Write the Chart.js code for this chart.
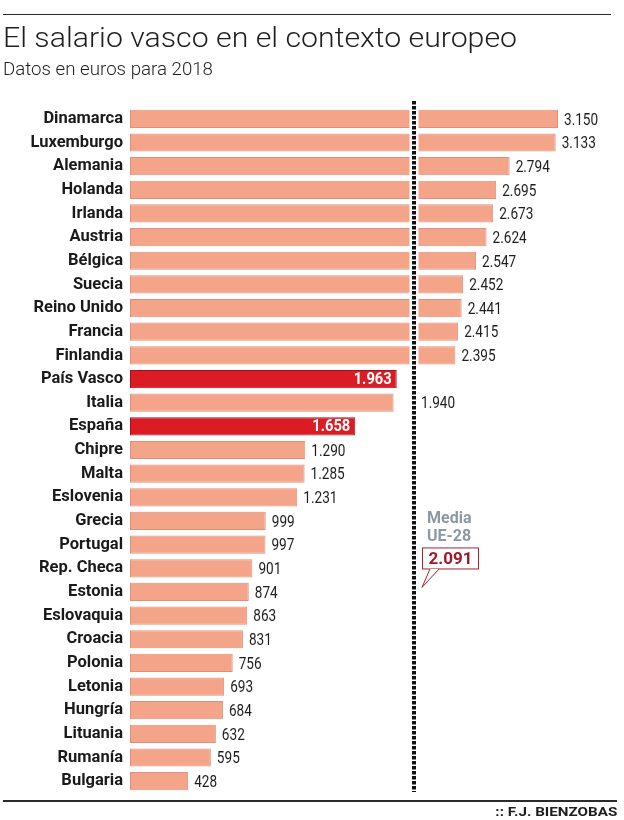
<!DOCTYPE html>
<html>
<head>
<meta charset="utf-8">
<script src="https://cdn.jsdelivr.net/npm/chart.js@4.4.1/dist/chart.umd.min.js"></script>
<style>
  html, body { margin: 0; padding: 0; background: #fff; }
  body { width: 624px; height: 820px; position: relative; overflow: hidden; font-family: Roboto, "Noto Sans", sans-serif; }
  #chart { position: absolute; left: 0; top: 0; }
  .rule { position: absolute; height: 1.5px; background: #2a2a2a; }
  .txt { position: absolute; white-space: nowrap; transform-origin: left top; }
  #title { left: 3px; top: 25px; font-size: 27px; line-height: 27px; font-weight: 300; color: #1e1e1e; }
  #subtitle { left: 3px; top: 59px; font-size: 19px; line-height: 19px; font-weight: 300; color: #1e1e1e; }
  #credit { top: 806px; font-size: 12px; line-height: 12px; font-weight: 700; color: #1e1e1e; transform-origin: right top; }
</style>
</head>
<body>
<canvas id="chart" width="624" height="820"></canvas>
<div class="rule" style="left:3px; top:13.5px; width:608px;"></div>
<div class="rule" style="left:3px; top:800px; width:614px;"></div>
<div id="title" class="txt">El salario vasco en el contexto europeo</div>
<div id="subtitle" class="txt">Datos en euros para 2018</div>
<div id="credit" class="txt">:: F.J. BIENZOBAS</div>
<script>
// ---- data ----
const countries = [
  'Dinamarca', 'Luxemburgo', 'Alemania', 'Holanda', 'Irlanda', 'Austria', 'Bélgica',
  'Suecia', 'Reino Unido', 'Francia', 'Finlandia', 'País Vasco', 'Italia', 'España',
  'Chipre', 'Malta', 'Eslovenia', 'Grecia', 'Portugal', 'Rep. Checa', 'Estonia',
  'Eslovaquia', 'Croacia', 'Polonia', 'Letonia', 'Hungría', 'Lituania', 'Rumanía', 'Bulgaria'
];
const salaries = [
  3150, 3133, 2794, 2695, 2673, 2624, 2547,
  2452, 2441, 2415, 2395, 1963, 1940, 1658,
  1290, 1285, 1231, 999, 997, 901, 874,
  863, 831, 756, 693, 684, 632, 595, 428
];
const highlighted = ['País Vasco', 'España'];
const euAverage = 2091;
const averageLabel = ['Media', 'UE-28'];

// ---- text fitting for HTML headings ----
function fitWidth(id, target, alignRight, rightEdge) {
  const el = document.getElementById(id);
  const w = el.getBoundingClientRect().width;
  const s = target / w;
  el.style.transform = 'scaleX(' + s + ')';
  if (alignRight) {
    el.style.left = (rightEdge - w) + 'px';
  }
}

function fmt(n) {
  return String(n).replace(/\B(?=(\d{3})+(?!\d))/g, '.');
}

const SALMON = '#F4A489';
const SALMON_EDGE = '#DE907A';
const RED = '#DC1C24';
const RED_EDGE = '#A3141A';

const barColors = countries.map(c => highlighted.includes(c) ? RED : SALMON);
const barEdges = countries.map(c => highlighted.includes(c) ? RED_EDGE : SALMON_EDGE);

const overlayPlugin = {
  id: 'overlay',
  afterDatasetsDraw(chart) {
    const ctx = chart.ctx;
    const xs = chart.scales.x;
    const area = chart.chartArea;
    const mx = Math.round(xs.getPixelForValue(euAverage));

    // average line: white halo then black dashes
    ctx.save();
    ctx.strokeStyle = '#ffffff';
    ctx.lineWidth = 9;
    ctx.beginPath();
    ctx.moveTo(mx, area.top - 6);
    ctx.lineTo(mx, area.bottom - 1);
    ctx.stroke();
    ctx.strokeStyle = '#111111';
    ctx.lineWidth = 4;
    ctx.setLineDash([3.5, 1.5]);
    ctx.beginPath();
    ctx.moveTo(mx, area.top - 6);
    ctx.lineTo(mx, area.bottom - 1);
    ctx.stroke();
    ctx.restore();

    // value labels
    const meta = chart.getDatasetMeta(0);
    meta.data.forEach((bar, i) => {
      const txt = fmt(salaries[i]);
      ctx.save();
      ctx.textBaseline = 'middle';
      if (highlighted.includes(countries[i])) {
        ctx.font = 'bold 16px Roboto';
        ctx.fillStyle = '#ffffff';
        ctx.textAlign = 'right';
        ctx.translate(bar.x - 5, bar.y + 1);
        ctx.scale(0.92, 1);
        ctx.fillText(txt, 0, 0);
      } else {
        ctx.font = '17px Roboto';
        ctx.fillStyle = '#1e1e1e';
        ctx.textAlign = 'left';
        const w = ctx.measureText(txt).width * 0.8;
        let x = bar.x + 6;
        if (x < mx + 6 && x + w > mx - 6) x = mx + 7;
        ctx.translate(x, bar.y + 1.5);
        ctx.scale(0.8, 1);
        ctx.fillText(txt, 0, 0);
      }
      ctx.restore();
    });

    // "Media UE-28" annotation
    const ys = chart.scales.y;
    const step = ys.getPixelForValue(1) - ys.getPixelForValue(0);
    const baseY = ys.getPixelForValue(17); // around Grecia row
    ctx.save();
    ctx.font = 'bold 16px Roboto';
    ctx.fillStyle = '#8C98A2';
    ctx.textAlign = 'left';
    ctx.textBaseline = 'alphabetic';
    ctx.fillText(averageLabel[0], mx + 13, baseY + 2);
    ctx.fillText(averageLabel[1], mx + 13, baseY + 2 + 0.78 * step);

    const bx = mx + 8, by = baseY + 26.5, bw = 56, bh = 21;
    ctx.fillStyle = '#ffffff';
    ctx.strokeStyle = '#A8202B';
    ctx.lineWidth = 1;
    ctx.strokeRect(bx + 0.5, by + 0.5, bw, bh);
    // tail
    ctx.beginPath();
    ctx.moveTo(bx + 8, by + bh + 0.5);
    ctx.lineTo(mx + 8, by + bh + 19);
    ctx.lineTo(bx + 17, by + bh + 0.5);
    ctx.closePath();
    ctx.fillStyle = '#ffffff';
    ctx.fill();
    ctx.beginPath();
    ctx.moveTo(bx + 8, by + bh + 0.5);
    ctx.lineTo(mx + 8, by + bh + 19);
    ctx.lineTo(bx + 17, by + bh + 0.5);
    ctx.stroke();

    ctx.font = 'bold 17px Roboto';
    ctx.fillStyle = '#9E1A27';
    ctx.textAlign = 'center';
    ctx.textBaseline = 'middle';
    ctx.fillText(fmt(euAverage), bx + bw / 2 + 0.5, by + bh / 2 + 1.5);
    ctx.restore();
  }
};

new Chart(document.getElementById('chart'), {
  type: 'bar',
  data: {
    labels: countries,
    datasets: [{
      data: salaries,
      backgroundColor: barColors,
      borderColor: barEdges,
      borderWidth: 1,
      borderSkipped: false,
      barPercentage: 0.77,
      categoryPercentage: 1.0
    }]
  },
  options: {
    indexAxis: 'y',
    responsive: false,
    maintainAspectRatio: false,
    animation: false,
    layout: { padding: { top: 107, right: 66, bottom: 27, left: 0 } },
    plugins: {
      legend: { display: false },
      tooltip: { enabled: false },
      title: { display: false }
    },
    scales: {
      x: { display: false, min: 0, max: 3150 },
      y: {
        grid: { display: false, drawTicks: false },
        border: { display: false },
        ticks: {
          color: '#1a1a1a',
          font: { family: 'Roboto', size: 16.5, weight: 'bold' },
          padding: 7,
          autoSkip: false
        },
        afterFit(scale) { scale.width = 130; }
      }
    }
  },
  plugins: [overlayPlugin]
});

fitWidth('title', 514);
fitWidth('subtitle', 210);
fitWidth('credit', 122, true, 617);
</script>
</body>
</html>
